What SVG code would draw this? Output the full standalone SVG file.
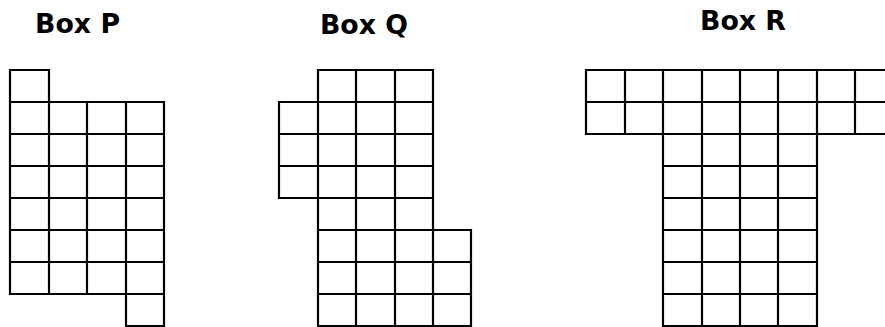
<svg xmlns="http://www.w3.org/2000/svg" width="885" height="327" viewBox="0 0 885 327">
<style>
.grid{fill:none;stroke:#000;stroke-width:2.2;stroke-linecap:square}
.title{font-family:"DejaVu Sans","Liberation Sans",sans-serif;font-weight:bold;font-size:27px;fill:#000}
</style>
<rect width="885" height="327" fill="#fff"/>
<g id="boxP">
<text class="title" x="35" y="33" textLength="85" lengthAdjust="spacingAndGlyphs">Box P</text>
<path class="grid" d="M10,70H49 M10,102H164 M10,134H164 M10,166H164 M10,198H164 M10,230H164 M10,262H164 M10,294H164 M126,326H164 M10,70V294 M49,70V294 M87,102V294 M126,102V326 M164,102V326"/>
</g>
<g id="boxQ">
<text class="title" x="320" y="34" textLength="88" lengthAdjust="spacingAndGlyphs">Box Q</text>
<path class="grid" d="M318,70H433 M279,102H433 M279,134H433 M279,166H433 M279,198H433 M318,230H471 M318,262H471 M318,294H471 M318,326H471 M279,102V198 M318,70V326 M356,70V326 M395,70V326 M433,70V326 M471,230V326"/>
</g>
<g id="boxR">
<text class="title" x="700" y="30" textLength="86" lengthAdjust="spacingAndGlyphs">Box R</text>
<path class="grid" d="M586,70H894 M586,102H894 M586,134H894 M663,166H817 M663,198H817 M663,230H817 M663,262H817 M663,294H817 M663,326H817 M586,70V134 M625,70V134 M663,70V326 M702,70V326 M740,70V326 M778,70V326 M817,70V326 M855,70V134"/>
</g>
<g id="connectors"></g>
</svg>
